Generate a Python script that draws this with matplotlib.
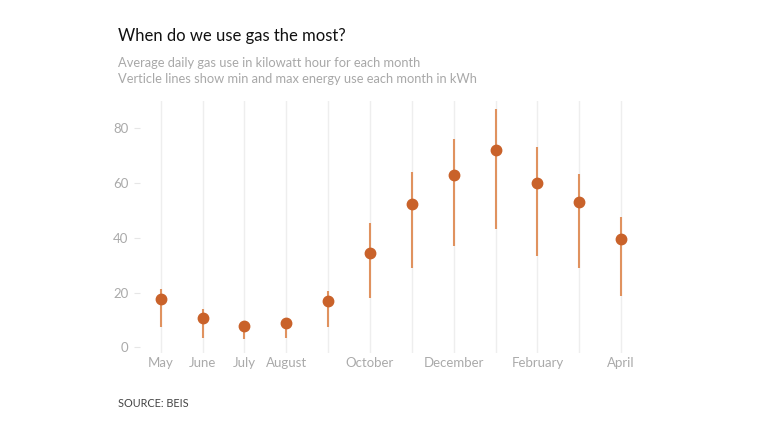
import matplotlib.pyplot as plt
import numpy as np

months = ["May", "June", "July", "August", "September", "October",
          "November", "December", "January", "February", "March", "April"]
avg_use = [17.7, 10.6, 8.0, 9.0, 16.8, 34.5, 52.4, 62.9, 72.2, 60.1, 53.3, 39.5]
min_use = [7.3, 3.3, 3.0, 3.5, 7.3, 17.9, 29.0, 36.9, 43.1, 33.3, 29.0, 18.9]
max_use = [21.4, 13.9, 9.5, 10.3, 20.8, 45.5, 64.2, 76.2, 87.0, 73.3, 63.4, 47.7]
shown_labels = ["May", "June", "July", "August", "", "October",
                "", "December", "", "February", "", "April"]
yticks = [0, 20, 40, 60, 80]

plt.rcParams['font.family'] = ['Lato', 'DejaVu Sans']

fig = plt.figure(figsize=(7.68, 4.32), dpi=100)
ax = fig.add_axes([0.182, 0.183, 0.654, 0.583])

x = np.arange(len(months))
for xi in x:
    ax.axvline(xi, color="#eeeeee", lw=1, zorder=0)

ax.vlines(x, min_use, max_use, color="#e0925f", lw=1.5, zorder=2)
ax.plot(x, avg_use, "o", color="#c9622a", ms=7.5, zorder=3)

ax.set_xlim(-0.5, 11.5)
ax.set_ylim(-2, 90)
ax.set_xticks(x)
ax.set_xticklabels(shown_labels)
ax.set_yticks(yticks)
for s in ax.spines.values():
    s.set_visible(False)
ax.tick_params(axis="x", length=0, pad=3, labelsize=9.5, labelcolor="#aaaaaa")
ax.tick_params(axis="y", length=4, color="#e6e6e6", pad=4, labelsize=9.5, labelcolor="#aaaaaa")

fig.text(0.154, 0.917, "When do we use gas the most?", fontsize=12, color="#111111", va="center")
fig.text(0.154, 0.855, "Average daily gas use in kilowatt hour for each month",
         fontsize=9.3, color="#a8a8a8", va="center")
fig.text(0.154, 0.818, "Verticle lines show min and max energy use each month in kWh",
         fontsize=9.3, color="#a8a8a8", va="center")
fig.text(0.154, 0.066, "SOURCE: BEIS", fontsize=7.8, color="#444444", va="center")

plt.savefig("out.png", dpi=100)
